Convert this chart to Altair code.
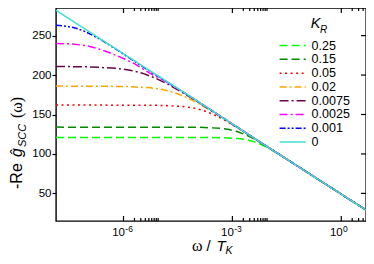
import altair as alt
import pandas as pd

# ---- data ----
K_labels = ["0.25", "0.15", "0.05", "0.02", "0.0075", "0.0025", "0.001", "0"]
colors = ["#00ff00", "#008b00", "#ff0000", "#ffa500", "#670748", "#ff00ff", "#0000ff", "#40e0d0"]
dashes = [[8, 4], [8, 4], [2, 3.5], [7, 3, 2, 3], [9, 3, 2, 3], [8, 3, 2, 3], [6, 2, 2, 2, 2, 2], [1, 0]]

# log10(omega / T_K) positions and -Re g values for each K_R
logw_025 = [-7.86, -3.65, -3.24, -2.84, -2.63, -2.43, -2.22, -2.02, -1.61, 0, 0.68]
val_025 = [121, 120.9, 120.6, 119.5, 118.2, 115.9, 112.3, 107.7, 96.6, 49, 29]
logw_015 = [-7.86, -4.22, -3.77, -3.32, -3.09, -2.87, -2.64, -2.41, -1.96, 0, 0.68]
val_015 = [134, 133.9, 133.6, 132.4, 130.9, 128.4, 124.4, 119.3, 107.0, 49, 29]
logw_005 = [-7.86, -5.45, -4.90, -4.36, -4.08, -3.81, -3.54, -3.26, -2.72, -2, 0, 0.68]
val_005 = [162, 161.8, 161.5, 160.1, 158.3, 155.2, 150.4, 144.2, 129.3, 108, 49, 29]
logw_002 = [-7.86, -6.50, -5.88, -5.25, -4.93, -4.62, -4.31, -3.99, -3.37, -2, 0, 0.68]
val_002 = [186, 185.8, 185.4, 183.8, 181.7, 178.2, 172.6, 165.6, 148.5, 108, 49, 29]
logw_00075 = [-7.86, -7.60, -6.89, -6.18, -5.82, -5.46, -5.11, -4.75, -4.04, -2, 0, 0.68]
val_00075 = [211, 210.8, 210.3, 208.5, 206.1, 202.1, 195.8, 187.8, 168.5, 108, 49, 29]
logw_00025 = [-7.86, -7.45, -7.05, -6.75, -6.45, -6.10, -5.70, -5.30, -4.82, -4, -2, 0, 0.68]
val_00025 = [240, 239.5, 237.5, 234, 229.5, 223, 214.5, 203, 191.5, 168, 108, 49, 29]
logw_0001 = [-7.86, -7.60, -7.35, -7.10, -6.85, -6.60, -6.20, -5.50, -4, -2, 0, 0.68]
val_0001 = [263, 262, 260, 256, 250.5, 244.2, 232.5, 211.5, 168, 108, 49, 29]
logw_0 = [-7.86, -6, -4, -2, 0, 0.68]
val_0 = [282, 227, 168, 108, 49, 29]

series = [
    ("0.25", logw_025, val_025), ("0.15", logw_015, val_015),
    ("0.05", logw_005, val_005), ("0.02", logw_002, val_002),
    ("0.0075", logw_00075, val_00075), ("0.0025", logw_00025, val_00025),
    ("0.001", logw_0001, val_0001), ("0", logw_0, val_0),
]

x_major = [1e-6, 1e-3, 1.0]
x_major_exp = ["-6", "-3", "0"]
x_minor = [2e-6, 3e-6, 4e-6, 5e-6, 6e-6, 7e-6, 8e-6, 9e-6,
           2e-3, 3e-3, 4e-3, 5e-3, 6e-3, 7e-3, 8e-3, 9e-3,
           2.0, 3.0, 4.0]
y_major = [50, 100, 150, 200, 250]

rows = []
for k, lw, vv in series:
    for i, (l, v) in enumerate(zip(lw, vv)):
        rows.append({"K": k, "w": 10 ** l, "v": v, "i": i})
df = pd.DataFrame(rows)

W, H = 310, 213
FONT = "Liberation Sans"

xscale = alt.Scale(type="log", domain=[1.38e-8, 4.8], nice=False)
yscale = alt.Scale(domain=[15, 285], nice=False, zero=False)
cscale = alt.Scale(domain=K_labels, range=colors)
dscale = alt.Scale(domain=K_labels, range=dashes)

base = alt.Chart(df).mark_line(strokeWidth=1.5, clip=True).encode(
    x=alt.X("w:Q", scale=xscale, axis=None),
    color=alt.Color("K:N", scale=cscale, legend=None),
    strokeDash=alt.StrokeDash("K:N", scale=dscale, legend=None),
    order="i:Q",
)
curves = base.transform_filter(alt.datum.K != "0").encode(
    y=alt.Y("v:Q", scale=yscale, title="",
            axis=alt.Axis(values=y_major, tickSize=4, labelPadding=1, labelFontSize=11.5,
                          labelFont=FONT, labelColor="black", tickColor="black",
                          tickWidth=1.2, domain=False, grid=False)))
zero = base.transform_filter(alt.datum.K == "0").encode(
    y=alt.Y("v:Q", scale=yscale, axis=None))

dmaj = pd.DataFrame({"t": x_major, "e": x_major_exp, "b": ["10"] * 3})
dmin = pd.DataFrame({"t": x_minor})
dy = pd.DataFrame({"t": y_major})

def xt(d, y1, y2):
    return alt.Chart(d).mark_rule(color="black", strokeWidth=1.2).encode(
        x=alt.X("t:Q", scale=xscale, axis=None), y=alt.value(y1), y2=alt.value(y2))

ticks = [xt(dmaj, H, H - 5), xt(dmin, H, H - 3), xt(dmaj, 0, 5), xt(dmin, 0, 3)]
rticks = alt.Chart(dy).mark_rule(color="black", strokeWidth=1.2).encode(
    y=alt.Y("t:Q", scale=yscale, axis=None), x=alt.value(W), x2=alt.value(W - 5))

xlab = alt.Chart(dmaj).mark_text(align="right", baseline="alphabetic", dx=1.5,
                                 fontSize=11.5, font=FONT, color="black").encode(
    x=alt.X("t:Q", scale=xscale, axis=None), y=alt.value(H + 15.3), text="b:N")
xsup = alt.Chart(dmaj).mark_text(align="left", baseline="alphabetic", dx=1.8,
                                 fontSize=8.5, font=FONT, color="black").encode(
    x=alt.X("t:Q", scale=xscale, axis=None), y=alt.value(H + 10.8), text="e:N")

# legend drawn from the K list
dleg = pd.DataFrame({"K": K_labels, "row": list(range(len(K_labels)))})
lys = alt.Scale(domain=[0, 7], range=[37.6, 134])
leg_line = alt.Chart(dleg).mark_rule(strokeWidth=1.5).encode(
    x=alt.value(223.6), x2=alt.value(249.8),
    y=alt.Y("row:Q", scale=lys, axis=None),
    color=alt.Color("K:N", scale=cscale, legend=None),
    strokeDash=alt.StrokeDash("K:N", scale=dscale, legend=None))
leg_text = alt.Chart(dleg).mark_text(align="left", baseline="middle", fontSize=12.5,
                                     font=FONT, color="black").encode(
    x=alt.value(255.6), y=alt.Y("row:Q", scale=lys, axis=None), text="K:N")

def label(txt, x, y, size, style="normal", font=FONT, angle=0, align="left"):
    return alt.Chart(pd.DataFrame({"s": [txt]})).mark_text(
        align=align, baseline="alphabetic", fontSize=size, fontStyle=style,
        font=font, color="black", angle=angle).encode(
        x=alt.value(x), y=alt.value(y), text="s:N")

texts = [
    label("K", 254.7, 20, 14.5, "italic"),
    label("R", 264, 24.5, 10, "italic"),
    label("ω", 136, 243, 16, font="Liberation Serif"),
    label("/", 150.5, 243, 15),
    label("T", 160.5, 243, 15, "italic"),
    label("K", 169.5, 246, 10.5, "italic"),
    label("-Re", -34, 181, 16, angle=270),
    label("ĝ", -34, 149, 16, "italic", angle=270),
    label("SCC", -30, 139, 11, "italic", angle=270),
    label("(ω)", -34, 110, 16, font="Liberation Serif", angle=270),
]

chart = alt.layer(curves, zero, *ticks, rticks, xlab, xsup, leg_line, leg_text, *texts).resolve_scale(
    y="independent"
).properties(
    width=W, height=H,
    autosize=alt.AutoSizeParams(type="none"),
    padding={"left": 48, "top": 0, "right": 0, "bottom": 35},
).configure_view(stroke="black", strokeWidth=1.4)

chart.save("out.html", embed_options={"renderer": "svg", "actions": False})
